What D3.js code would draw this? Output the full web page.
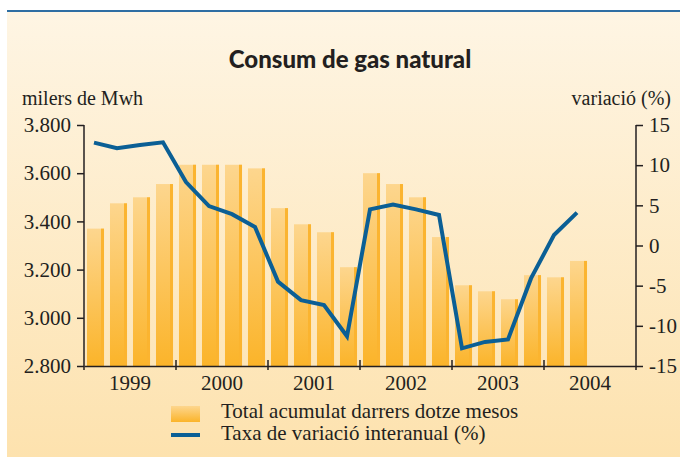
<!DOCTYPE html>
<html lang="ca">
<head>
<meta charset="UTF-8">
<title>Consum de gas natural</title>
<script src="https://d3js.org/d3.v7.min.js"></script>
<style>
  body { margin: 0; background: #fff; }
  svg text { font-family: "Liberation Serif", "Times New Roman", serif; fill: #231f20; }
</style>
</head>
<body>
<svg id="chart" width="680" height="457"></svg>
<script>
// data
var years = ["1999", "2000", "2001", "2002", "2003", "2004"];
var quarters = ["T1", "T2", "T3", "T4"];
var totals = [3370, 3475, 3500, 3555,
              3635, 3635, 3635, 3620,
              3455, 3388, 3355, 3210,
              3600, 3555, 3500, 3335,
              3135, 3110, 3077, 3177,
              3168, 3236];
var variation = [12.8, 12.1, 12.5, 12.85,
                 7.9, 4.9, 3.9, 2.3,
                 -4.5, -6.8, -7.4, -11.3,
                 4.5, 5.1, 4.5, 3.8,
                 -12.8, -12.0, -11.7, -4.1,
                 1.3, 4.1];
var leftTicks = [2800, 3000, 3200, 3400, 3600, 3800];
var rightTicks = [-15, -10, -5, 0, 5, 10, 15];

var svg = d3.select("#chart");

var slots = [];
years.forEach(function(y) { quarters.forEach(function(q) { slots.push(y + q); }); });
var data = totals.map(function(v, i) { return { key: slots[i], total: v, rate: variation[i] }; });

// plot edges (window.top is reserved, so prefixed names)
var pLeft = 84, pRight = 636, pTop = 125, pBottom = 366;

var x = d3.scaleBand().domain(slots).range([pLeft, pRight]).paddingInner(0.26).paddingOuter(0.13);
var xYear = d3.scaleBand().domain(years).range([pLeft, pRight]);
var y1 = d3.scaleLinear().domain([2800, 3800]).range([pBottom, pTop]);
var y2 = d3.scaleLinear().domain([-15, 15]).range([pBottom, pTop]);

var ca = d3.formatLocale({ decimal: ",", thousands: ".", grouping: [3], currency: ["", " €"] });
var fmt = ca.format(",");

// background
var defs = svg.append("defs");
var bg = defs.append("linearGradient").attr("id", "bg").attr("x1", 0).attr("y1", 0).attr("x2", 0).attr("y2", 1);
bg.append("stop").attr("offset", "0%").attr("stop-color", "#fef5e4");
bg.append("stop").attr("offset", "100%").attr("stop-color", "#fde2ae");
var barGrad = defs.append("linearGradient").attr("id", "barGrad").attr("x1", 0).attr("y1", 0).attr("x2", 0).attr("y2", 1);
barGrad.append("stop").attr("offset", "0%").attr("stop-color", "#fdd68e");
barGrad.append("stop").attr("offset", "100%").attr("stop-color", "#fbb42a");

svg.append("rect").attr("x", 7).attr("y", 11).attr("width", 673).attr("height", 446).attr("fill", "url(#bg)");
svg.append("line").attr("x1", 7).attr("x2", 680).attr("y1", 11).attr("y2", 11)
  .attr("stroke", "#2e6ea3").attr("stroke-width", 2);

// title
svg.append("text")
  .attr("x", 350).attr("y", 68)
  .attr("text-anchor", "middle")
  .style("font-family", "Lato, 'DejaVu Sans', sans-serif")
  .style("font-weight", "900")
  .style("font-size", "24px")
  .text("Consum de gas natural");

svg.append("text").attr("x", 22).attr("y", 105).style("font-size", "20px").text("milers de Mwh");
svg.append("text").attr("x", 671).attr("y", 105).attr("text-anchor", "end").style("font-size", "20px").text("variació (%)");

// bars
var bars = svg.append("g");
bars.selectAll(".bar")
  .data(data)
  .enter()
  .append("rect")
  .attr("class", "bar")
  .attr("x", function(d) { return x(d.key); })
  .attr("y", function(d) { return y1(d.total); })
  .attr("width", x.bandwidth())
  .attr("height", function(d) { return pBottom - y1(d.total); })
  .attr("fill", "url(#barGrad)");
// darker edge on the right of each bar
bars.selectAll(".edge")
  .data(data)
  .enter()
  .append("rect")
  .attr("class", "edge")
  .attr("x", function(d) { return x(d.key) + x.bandwidth() - 3; })
  .attr("y", function(d) { return y1(d.total); })
  .attr("width", 3)
  .attr("height", function(d) { return pBottom - y1(d.total); })
  .attr("fill", "#fbb430");

// axes
var axL = svg.append("g").attr("transform", "translate(" + pLeft + ",0)")
  .call(d3.axisLeft(y1).tickValues(leftTicks).tickFormat(fmt).tickSize(7).tickPadding(6));
var axR = svg.append("g").attr("transform", "translate(" + pRight + ",0)")
  .call(d3.axisRight(y2).tickValues(rightTicks).tickFormat(function(d) { return String(d); })
    .tickSize(7).tickPadding(6));
[axL, axR].forEach(function(a) {
  a.select(".domain").remove();
  a.selectAll("line").attr("stroke", "#231f20").attr("stroke-width", 1.5);
  a.selectAll("text").style("font-size", "21px").style("font-family", "'Liberation Serif', serif").attr("fill", "#231f20");
});

svg.append("line").attr("x1", pLeft).attr("x2", pLeft).attr("y1", pTop).attr("y2", pBottom + 4)
  .attr("stroke", "#231f20").attr("stroke-width", 1.5);
svg.append("line").attr("x1", pRight).attr("x2", pRight).attr("y1", pTop).attr("y2", pBottom + 4)
  .attr("stroke", "#231f20").attr("stroke-width", 1.5);

var axB = svg.append("g").attr("transform", "translate(0," + pBottom + ")")
  .call(d3.axisBottom(xYear).tickSize(0).tickPadding(9));
axB.select(".domain").attr("stroke", "#231f20").attr("stroke-width", 1.5);
axB.selectAll("text").style("font-size", "21px").style("font-family", "'Liberation Serif', serif").attr("fill", "#231f20");

svg.append("g").selectAll("line")
  .data(years.slice(1))
  .enter()
  .append("line")
  .attr("x1", function(d) { return xYear(d); })
  .attr("x2", function(d) { return xYear(d); })
  .attr("y1", pBottom - 6).attr("y2", pBottom + 4)
  .attr("stroke", "#231f20").attr("stroke-width", 1.5);

// variation line
var line = d3.line()
  .x(function(d) { return x(d.key) + x.bandwidth() / 2 - 1.5; })
  .y(function(d) { return y2(d.rate); });
svg.append("path")
  .datum(data)
  .attr("d", line)
  .attr("fill", "none")
  .attr("stroke", "#0b5f95")
  .attr("stroke-width", 4)
  .attr("stroke-linejoin", "miter");

// legend
svg.append("rect").attr("x", 171).attr("y", 406).attr("width", 29).attr("height", 16).attr("fill", "url(#barGrad)");
svg.append("line").attr("x1", 171).attr("x2", 200).attr("y1", 435).attr("y2", 435)
  .attr("stroke", "#0b5f95").attr("stroke-width", 4);
svg.append("text").attr("x", 221).attr("y", 418).style("font-size", "21px").text("Total acumulat darrers dotze mesos");
svg.append("text").attr("x", 221).attr("y", 440).style("font-size", "21px").text("Taxa de variació interanual (%)");
</script>
</body>
</html>
